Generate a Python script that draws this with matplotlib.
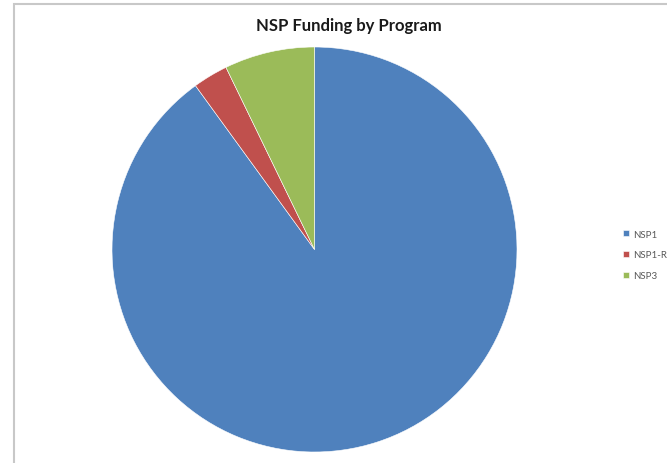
import matplotlib
matplotlib.use("Agg")
import matplotlib.pyplot as plt
from matplotlib.patches import Rectangle

# data
LABELS = ['NSP1', 'NSP1-RLF', 'NSP3']
VALUES = [90.0, 2.8, 7.2]
COLORS = ['#4F81BD', '#C0504D', '#9BBB59']
TITLE = 'NSP Funding by Program'

W, H = 667, 464
fig = plt.figure(figsize=(W / 100, H / 100), dpi=100)

# chart area border (light gray, runs off right/bottom edges)
fig.patches.append(Rectangle((14 / W, -0.02), 1.0, 1 - 5 / H + 0.02,
                             transform=fig.transFigure, fill=False,
                             edgecolor='#C8C8C8', linewidth=1.5))

cx, cy, r = 314.5, 250.5, 202.5
ax = fig.add_axes([(cx - r) / W, (H - cy - r) / H, 2 * r / W, 2 * r / H])
wedges, _ = ax.pie(VALUES, colors=COLORS, startangle=90, counterclock=False,
                   radius=1.0, wedgeprops=dict(linewidth=0.4, edgecolor='white'))
ax.set_xlim(-1, 1)
ax.set_ylim(-1, 1)
ax.set_aspect('equal')
ax.axis('off')

# title is centred on the (cropped) chart area, not on the pie
fig.text(349 / W, 1 - 26 / H, TITLE, ha='center', va='center',
         fontsize=12, fontweight='bold', family='Lato', color='#1A1A1A')

leg = fig.legend(wedges, LABELS, loc='upper left',
                 bbox_to_anchor=(614 / W, 1 - 222 / H), frameon=False,
                 prop={'family': 'Lato', 'size': 7},
                 handlelength=0.6, handleheight=0.6, handletextpad=0.45,
                 labelspacing=1.2)
for t in leg.get_texts():
    t.set_color('#595959')

fig.savefig('out.png', dpi=100)
